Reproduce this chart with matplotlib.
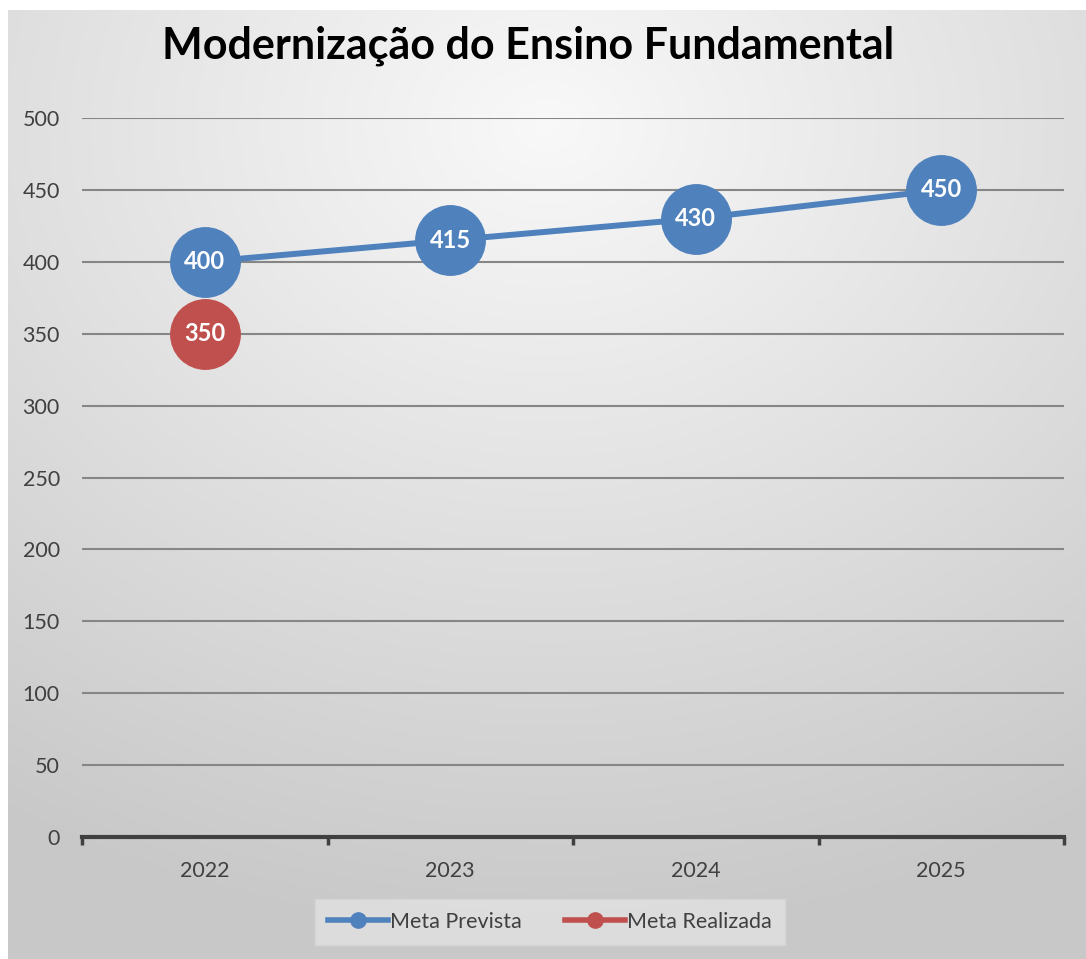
import numpy as np
import matplotlib
matplotlib.use("Agg")
import matplotlib.pyplot as plt
from matplotlib.lines import Line2D

anos = ["2022", "2023", "2024", "2025"]
meta_prevista = [400, 415, 430, 450]
meta_realizada = [350]
titulo = "Modernização do Ensino Fundamental"

azul = "#4f81bd"
vermelho = "#c0504d"
texto = "#404040"

plt.rcParams['font.family'] = ['Lato', 'DejaVu Sans']

W, H = 1086, 959
fig = plt.figure(figsize=(W / 100, H / 100), dpi=100)
fig.patch.set_facecolor("white")

# fundo com gradiente radial (claro no topo-centro, escuro nas bordas)
bg = fig.add_axes([8 / W, 0, 1 - 8 / W, 1 - 10 / H])
yy, xx = np.mgrid[0:1:300j, 0:1:300j]
dist = np.sqrt(((xx - 0.5) * 1.0) ** 2 + ((yy - 0.12) * 1.1) ** 2)
val = 0.975 - 0.19 * np.clip(dist / 0.95, 0, 1)
bg.imshow(np.dstack([val, val, val]), extent=[0, 1, 0, 1], origin="upper", aspect="auto")
bg.set_axis_off()

ax = fig.add_axes([82 / W, 1 - 837 / H, (1064 - 82) / W, (837 - 118) / H])
ax.patch.set_alpha(0)

x = np.arange(len(anos))
ax.plot(x, meta_prevista, color=azul, lw=4.3, marker="o", ms=50, zorder=3, solid_capstyle="round")
ax.plot(x[:len(meta_realizada)], meta_realizada, color=vermelho, lw=4.3, marker="o", ms=50, zorder=3)

for xi, v in zip(x, meta_prevista):
    ax.text(xi, v, str(v), color="white", fontsize=17, fontweight="bold", ha="center", va="center", zorder=4)
for xi, v in zip(x, meta_realizada):
    ax.text(xi, v, str(v), color="white", fontsize=17, fontweight="bold", ha="center", va="center", zorder=4)

ax.set_xlim(-0.5, len(anos) - 0.5)
ax.set_ylim(0, 500)
ax.set_yticks(range(0, 501, 50))
ax.yaxis.grid(True, color="#868686", lw=1.5)
ax.set_axisbelow(True)
ax.tick_params(axis="y", length=0, pad=16, labelsize=15.5, labelcolor=texto)
ax.set_xticks(x)
ax.set_xticklabels(anos)
ax.set_xticks(np.arange(-0.5, len(anos)), minor=True)
ax.tick_params(axis="x", which="major", length=0, pad=17, labelsize=15.5, labelcolor=texto)
ax.tick_params(axis="x", which="minor", length=6, width=2.5, color="#404040", direction="out")
for s in ["top", "right", "left"]:
    ax.spines[s].set_visible(False)
ax.spines["bottom"].set_color("#404040")
ax.spines["bottom"].set_linewidth(3)

fig.text(528 / W, 1 - 46 / H, titulo, fontsize=31, fontweight="bold", ha="center", va="center", color="black")

handles = [
    Line2D([], [], color=azul, lw=4, marker="o", ms=11),
    Line2D([], [], color=vermelho, lw=4, marker="o", ms=11),
]
leg = fig.legend(handles, ["Meta Prevista", "Meta Realizada"], loc="center",
                 bbox_to_anchor=(550 / W, 1 - 922 / H), ncol=2, frameon=True, fancybox=False,
                 fontsize=15.5, handlelength=2.8, handletextpad=0.1, columnspacing=2.0,
                 borderpad=0.6, labelcolor=texto)
leg.get_frame().set_facecolor("#e2e2e2")
leg.get_frame().set_edgecolor("#d6d6d6")

fig.savefig("out.png", dpi=100)
